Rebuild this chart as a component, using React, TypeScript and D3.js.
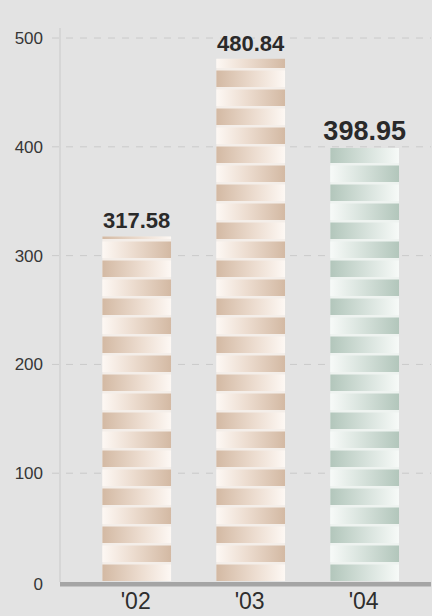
import React from 'react';
import * as d3 from 'd3';

const years = ["'02", "'03", "'04"];
const values = [317.58, 480.84, 398.95];
const yTicks = [0, 100, 200, 300, 400, 500];
const palettes = ['tan', 'tan', 'green'];

const width = 432;
const height = 616;

const colors = {
  tan: { light: '#fdf8f4', mid: '#ecdccf', dark: '#d3b9a3', gap: '#f4eee9' },
  green: { light: '#f7faf8', mid: '#d8e3dd', dark: '#b2c6bb', gap: '#eef3f0' },
};

const App = () => {
  const x = d3.scaleBand<string>()
    .domain(years)
    .range([60, 431])
    .paddingInner(0.395)
    .paddingOuter(0.325)
    .align(0.57);

  const y = d3.scaleLinear().domain([0, 500]).range([582, 38]);

  // stripe size in px
  const period = 19;
  const band = 16.5;

  return (
    <svg width={width} height={height} style={{ display: 'block' }}>
      <style>{'body{margin:0}'}</style>
      <defs>
        {Object.entries(colors).map(([k, c]) => (
          <React.Fragment key={k}>
            <linearGradient id={`${k}-a`} x1="0" x2="1" y1="0" y2="0">
              <stop offset="0%" stopColor={c.light} />
              <stop offset="45%" stopColor={c.mid} />
              <stop offset="100%" stopColor={c.dark} />
            </linearGradient>
            <linearGradient id={`${k}-b`} x1="0" x2="1" y1="0" y2="0">
              <stop offset="0%" stopColor={c.dark} />
              <stop offset="55%" stopColor={c.mid} />
              <stop offset="100%" stopColor={c.light} />
            </linearGradient>
          </React.Fragment>
        ))}
        {years.map((yr, i) => (
          <clipPath id={`clip-${i}`} key={yr}>
            <rect x={x(yr)} y={y(values[i])} width={x.bandwidth()} height={y(0) - 1 - y(values[i])} />
          </clipPath>
        ))}
      </defs>
      <rect width={width} height={height} fill="#e3e3e3" />

      {/* grid */}
      {yTicks.filter(t => t > 0).map(t => (
        <line key={t} x1={52} x2={431} y1={y(t)} y2={y(t)}
          stroke="#cacaca" strokeWidth={1} strokeDasharray="7 7" />
      ))}
      <line x1={60} x2={60} y1={28} y2={y(0)} stroke="#cdcdcd" strokeWidth={1.2} />

      {/* y labels */}
      {yTicks.map(t => (
        <text key={t} x={43} y={t === 0 ? y(t) + 2 : y(t)} dy="0.35em" textAnchor="end"
          fontFamily="'Liberation Sans', Arial, sans-serif" fontSize={17} fill="#363636">
          {t}
        </text>
      ))}

      {/* bars */}
      {years.map((yr, i) => {
        const x0 = x(yr) as number;
        const bottom = y(0) - 1;
        const top = y(values[i]);
        const n = Math.ceil((bottom - top) / period);
        const pal = palettes[i];
        return (
          <g key={yr} clipPath={`url(#clip-${i})`}>
            <rect x={x0} y={top} width={x.bandwidth()} height={bottom - top}
              fill={colors[pal as 'tan' | 'green'].gap} />
            {d3.range(n).map(k => (
              <rect key={k} x={x0} y={bottom - k * period - band} width={x.bandwidth()} height={band}
                fill={`url(#${pal}-${k % 2 === 0 ? 'b' : 'a'})`} />
            ))}
          </g>
        );
      })}

      {/* value labels */}
      {years.map((yr, i) => (
        <text key={yr} x={(x(yr) as number) + x.bandwidth() / 2} y={y(values[i]) - 8}
          textAnchor="middle" fontFamily="'Liberation Sans', Arial, sans-serif" fontWeight="bold"
          fontSize={i === 2 ? 27 : 22} fill="#2a2a2a">
          {values[i].toFixed(2)}
        </text>
      ))}

      {/* baseline */}
      <rect x={60} y={y(0)} width={371} height={4.5} fill="#a5a5a5" />

      {/* x labels */}
      {years.map(yr => (
        <text key={yr} x={(x(yr) as number) + x.bandwidth() / 2 - 1} y={609}
          textAnchor="middle" fontFamily="'Liberation Sans', Arial, sans-serif"
          fontSize={23} fill="#2e2e2e">
          {yr}
        </text>
      ))}
    </svg>
  );
};

export default App;
